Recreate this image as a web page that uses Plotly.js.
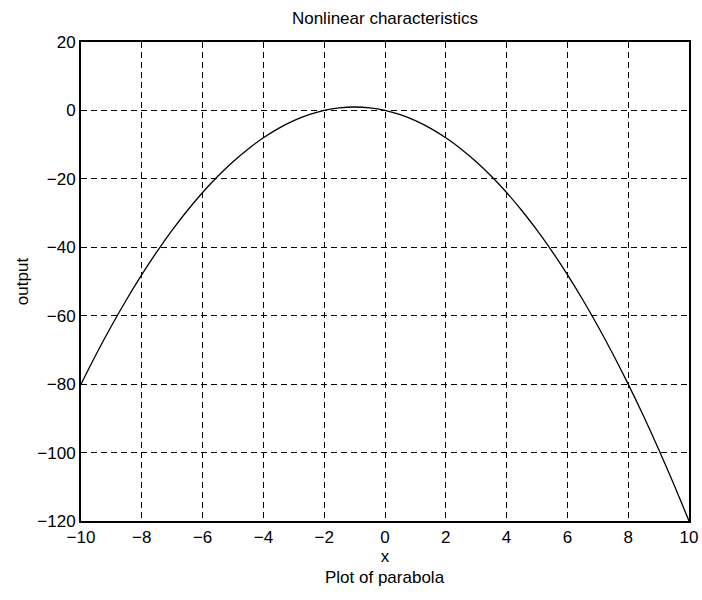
<!DOCTYPE html>
<html>
<head>
<meta charset="utf-8">
<script src="https://cdn.plot.ly/plotly-3.0.1.min.js"></script>
<style>html,body{margin:0;padding:0;background:#fff;}#chart{width:702px;height:600px;}</style>
</head>
<body>
<div id="chart"></div>
<script>
const xValues = [-10, -9.5, -9, -8.5, -8, -7.5, -7, -6.5, -6, -5.5, -5, -4.5, -4, -3.5, -3, -2.5, -2, -1.5, -1, -0.5, 0, 0.5, 1, 1.5, 2, 2.5, 3, 3.5, 4, 4.5, 5, 5.5, 6, 6.5, 7, 7.5, 8, 8.5, 9, 9.5, 10];
const outputValues = [-80, -71.25, -63, -55.25, -48, -41.25, -35, -29.25, -24, -19.25, -15, -11.25, -8, -5.25, -3, -1.25, 0, 0.75, 1, 0.75, 0, -1.25, -3, -5.25, -8, -11.25, -15, -19.25, -24, -29.25, -35, -41.25, -48, -55.25, -63, -71.25, -80, -89.25, -99, -109.25, -120];
const xTicks = [-10, -8, -6, -4, -2, 0, 2, 4, 6, 8, 10];
const yTicks = [-120, -100, -80, -60, -40, -20, 0, 20];
const chartTitle = "Nonlinear characteristics";
const xTitle = "x";
const subCaption = "Plot of parabola";
const yTitle = "output";

const font = {family: "Liberation Sans, Arial, sans-serif", size: 17, color: "#000"};
const fmt = v => (v < 0 ? "\u2212" + Math.abs(v) : String(v));

const trace = {
  x: xValues, y: outputValues, type: "scatter", mode: "lines",
  line: {color: "#000", width: 1.3, shape: "spline"}, hoverinfo: "skip"
};

const axisCommon = {
  showline: true, mirror: true, linecolor: "#000", linewidth: 2,
  showgrid: true, gridcolor: "#000", gridwidth: 1, griddash: "6px,4px",
  zeroline: false, ticks: "", tickfont: font, tickmode: "array"
};

const layout = {
  width: 702, height: 600,
  margin: {l: 81, r: 13, t: 42, b: 79},
  paper_bgcolor: "#fff", plot_bgcolor: "#fff",
  font: font,
  showlegend: false,
  title: {text: chartTitle, font: font, x: 0.5, xref: "paper", xanchor: "center", y: 0.97, yanchor: "middle"},
  xaxis: Object.assign({}, axisCommon, {
    range: [-10, 10], tickvals: xTicks, ticktext: xTicks.map(fmt),
    title: {text: xTitle, font: font, standoff: 2}
  }),
  yaxis: Object.assign({}, axisCommon, {
    range: [-120, 20], tickvals: yTicks, ticktext: yTicks.map(fmt),
    title: {text: yTitle, font: font, standoff: 4}
  }),
  annotations: [{
    text: subCaption, xref: "paper", yref: "paper", x: 0.5, y: -0.118,
    xanchor: "center", yanchor: "middle", showarrow: false, font: font
  }]
};

Plotly.newPlot("chart", [trace], layout, {staticPlot: true, displayModeBar: false});
</script>
</body>
</html>
